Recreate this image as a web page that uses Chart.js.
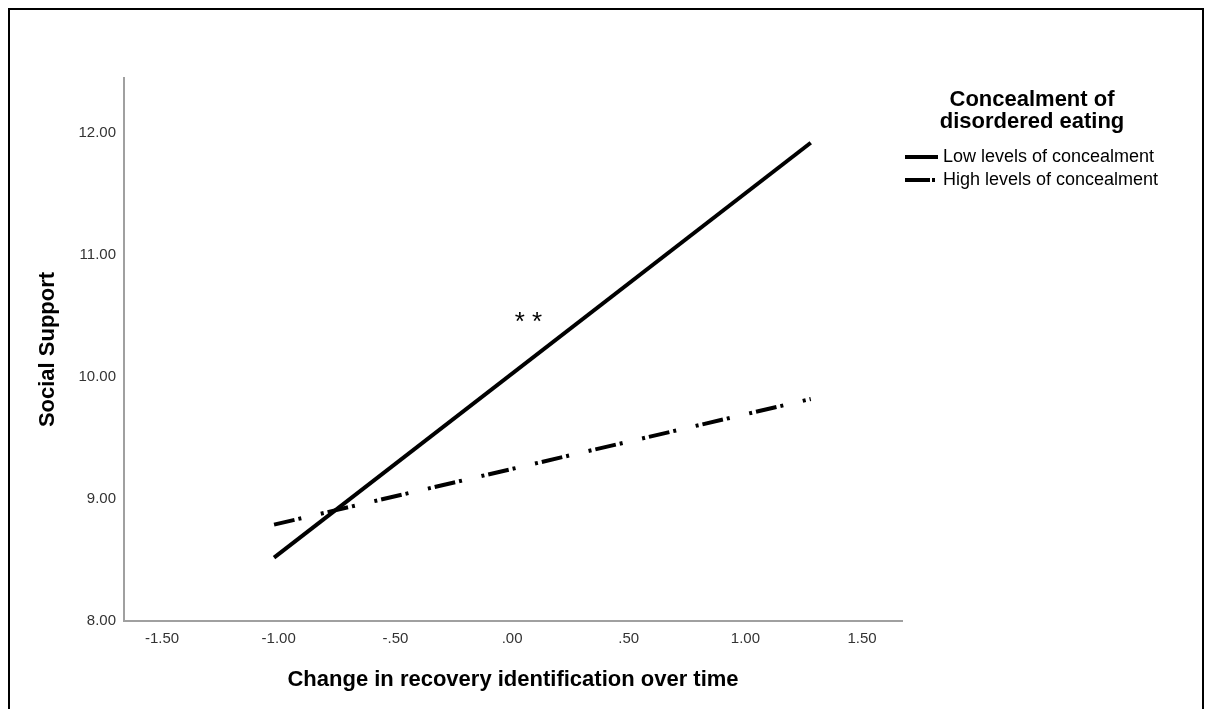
<!DOCTYPE html>
<html>
<head>
<meta charset="utf-8">
<script src="https://cdn.jsdelivr.net/npm/chart.js@4.4.1/dist/chart.umd.min.js"></script>
<style>
  html, body { margin: 0; padding: 0; background: #fff; }
  #wrap { position: relative; width: 1208px; height: 709px; overflow: hidden; }
  #frame { position: absolute; left: 8px; top: 8px; width: 1192px; height: 760px; border: 2px solid #000; }
  canvas { position: absolute; left: 0; top: 0; }
</style>
</head>
<body>
<div id="wrap">
  <div id="frame"></div>
  <canvas id="chart" width="1208" height="709"></canvas>
</div>
<script>
// data
const xValues = [-1.02, 1.28];
const lowConcealment = [8.52, 11.92];
const highConcealment = [8.79, 9.82];
const xTicks = [-1.5, -1.0, -0.5, 0, 0.5, 1.0, 1.5];
const yTicks = [8, 9, 10, 11, 12];
const seriesNames = ['Low levels of concealment', 'High levels of concealment'];
const legendTitle = ['Concealment of', 'disordered eating'];
const xTitle = 'Change in recovery identification over time';
const yTitle = 'Social Support';
const noteText = '* *';
const notePos = [0.07, 10.49];

const FONT = "'Liberation Sans', Arial, sans-serif";
const DASH_DOT = [21, 4, 3, 20, 3, 4];

// SPSS style labels: -1.50, -.50, .00, 1.00
function fmt(v) {
  let s = Math.abs(v).toFixed(2);
  if (Math.abs(v) < 1) s = s.replace(/^0/, '');
  return (v < 0 ? '-' : '') + s;
}

const toPoints = ys => xValues.map((x, i) => ({ x: x, y: ys[i] }));

// legend on the right, drawn by hand
const legendPlugin = {
  id: 'sideLegend',
  afterDraw(chart) {
    const c = chart.ctx;
    c.save();
    c.fillStyle = '#000';
    c.textBaseline = 'middle';
    c.textAlign = 'center';
    c.font = 'bold 22px ' + FONT;
    legendTitle.forEach((t, i) => c.fillText(t, 1032, 100 + i * 22));

    c.textAlign = 'left';
    c.font = '18px ' + FONT;
    c.strokeStyle = '#000';
    c.lineWidth = 4;
    const rows = [157, 180];
    chart.data.datasets.forEach((ds, i) => {
      c.beginPath();
      c.setLineDash(i === 0 ? [] : [25, 2, 3, 100]);
      c.moveTo(905, rows[i]);
      c.lineTo(938, rows[i]);
      c.stroke();
      c.setLineDash([]);
      c.fillText(ds.label, 943, rows[i]);
    });
    c.restore();
  }
};

// significance mark next to the solid line
const notePlugin = {
  id: 'note',
  afterDatasetsDraw(chart) {
    const c = chart.ctx;
    const px = chart.scales.x.getPixelForValue(notePos[0]);
    const py = chart.scales.y.getPixelForValue(notePos[1]);
    c.save();
    c.fillStyle = '#000';
    c.font = '26px ' + FONT;
    c.textAlign = 'center';
    c.textBaseline = 'middle';
    c.fillText(noteText, px, py + 6);
    c.restore();
  }
};

const ctx = document.getElementById('chart').getContext('2d');
new Chart(ctx, {
  type: 'scatter',
  data: {
    datasets: [
      {
        label: seriesNames[0],
        data: toPoints(lowConcealment),
        showLine: true,
        borderColor: '#000',
        borderWidth: 4,
        pointRadius: 0
      },
      {
        label: seriesNames[1],
        data: toPoints(highConcealment),
        showLine: true,
        borderColor: '#000',
        borderWidth: 4,
        borderDash: DASH_DOT,
        pointRadius: 0
      }
    ]
  },
  options: {
    responsive: false,
    animation: false,
    layout: { padding: { top: 78, right: 306, bottom: 0, left: 0 } },
    plugins: {
      legend: { display: false },
      tooltip: { enabled: false }
    },
    scales: {
      x: {
        type: 'linear',
        min: -1.663,
        max: 1.671,
        afterBuildTicks: s => { s.ticks = xTicks.map(v => ({ value: v })); },
        afterFit: s => { s.height = 88; },
        grid: { display: false, drawTicks: false },
        border: { display: true, color: '#a0a0a0', width: 2 },
        ticks: {
          padding: 9,
          color: '#333',
          autoSkip: false,
          maxRotation: 0,
          font: { family: FONT, size: 15 },
          callback: v => fmt(v)
        },
        title: {
          display: true,
          text: xTitle,
          color: '#000',
          font: { family: FONT, size: 22, weight: 'bold' },
          padding: { top: 0, bottom: 16 }
        }
      },
      y: {
        type: 'linear',
        min: 8,
        max: 12.451,
        afterBuildTicks: s => { s.ticks = yTicks.map(v => ({ value: v })); },
        afterFit: s => { s.width = 124; },
        grid: { display: false, drawTicks: false },
        border: { display: true, color: '#a0a0a0', width: 2 },
        ticks: {
          padding: 8,
          color: '#333',
          autoSkip: false,
          font: { family: FONT, size: 15 },
          callback: v => fmt(v)
        },
        title: {
          display: true,
          text: yTitle,
          color: '#000',
          font: { family: FONT, size: 22, weight: 'bold' },
          padding: { top: 35, bottom: 0 }
        }
      }
    }
  },
  plugins: [legendPlugin, notePlugin]
});
</script>
</body>
</html>
